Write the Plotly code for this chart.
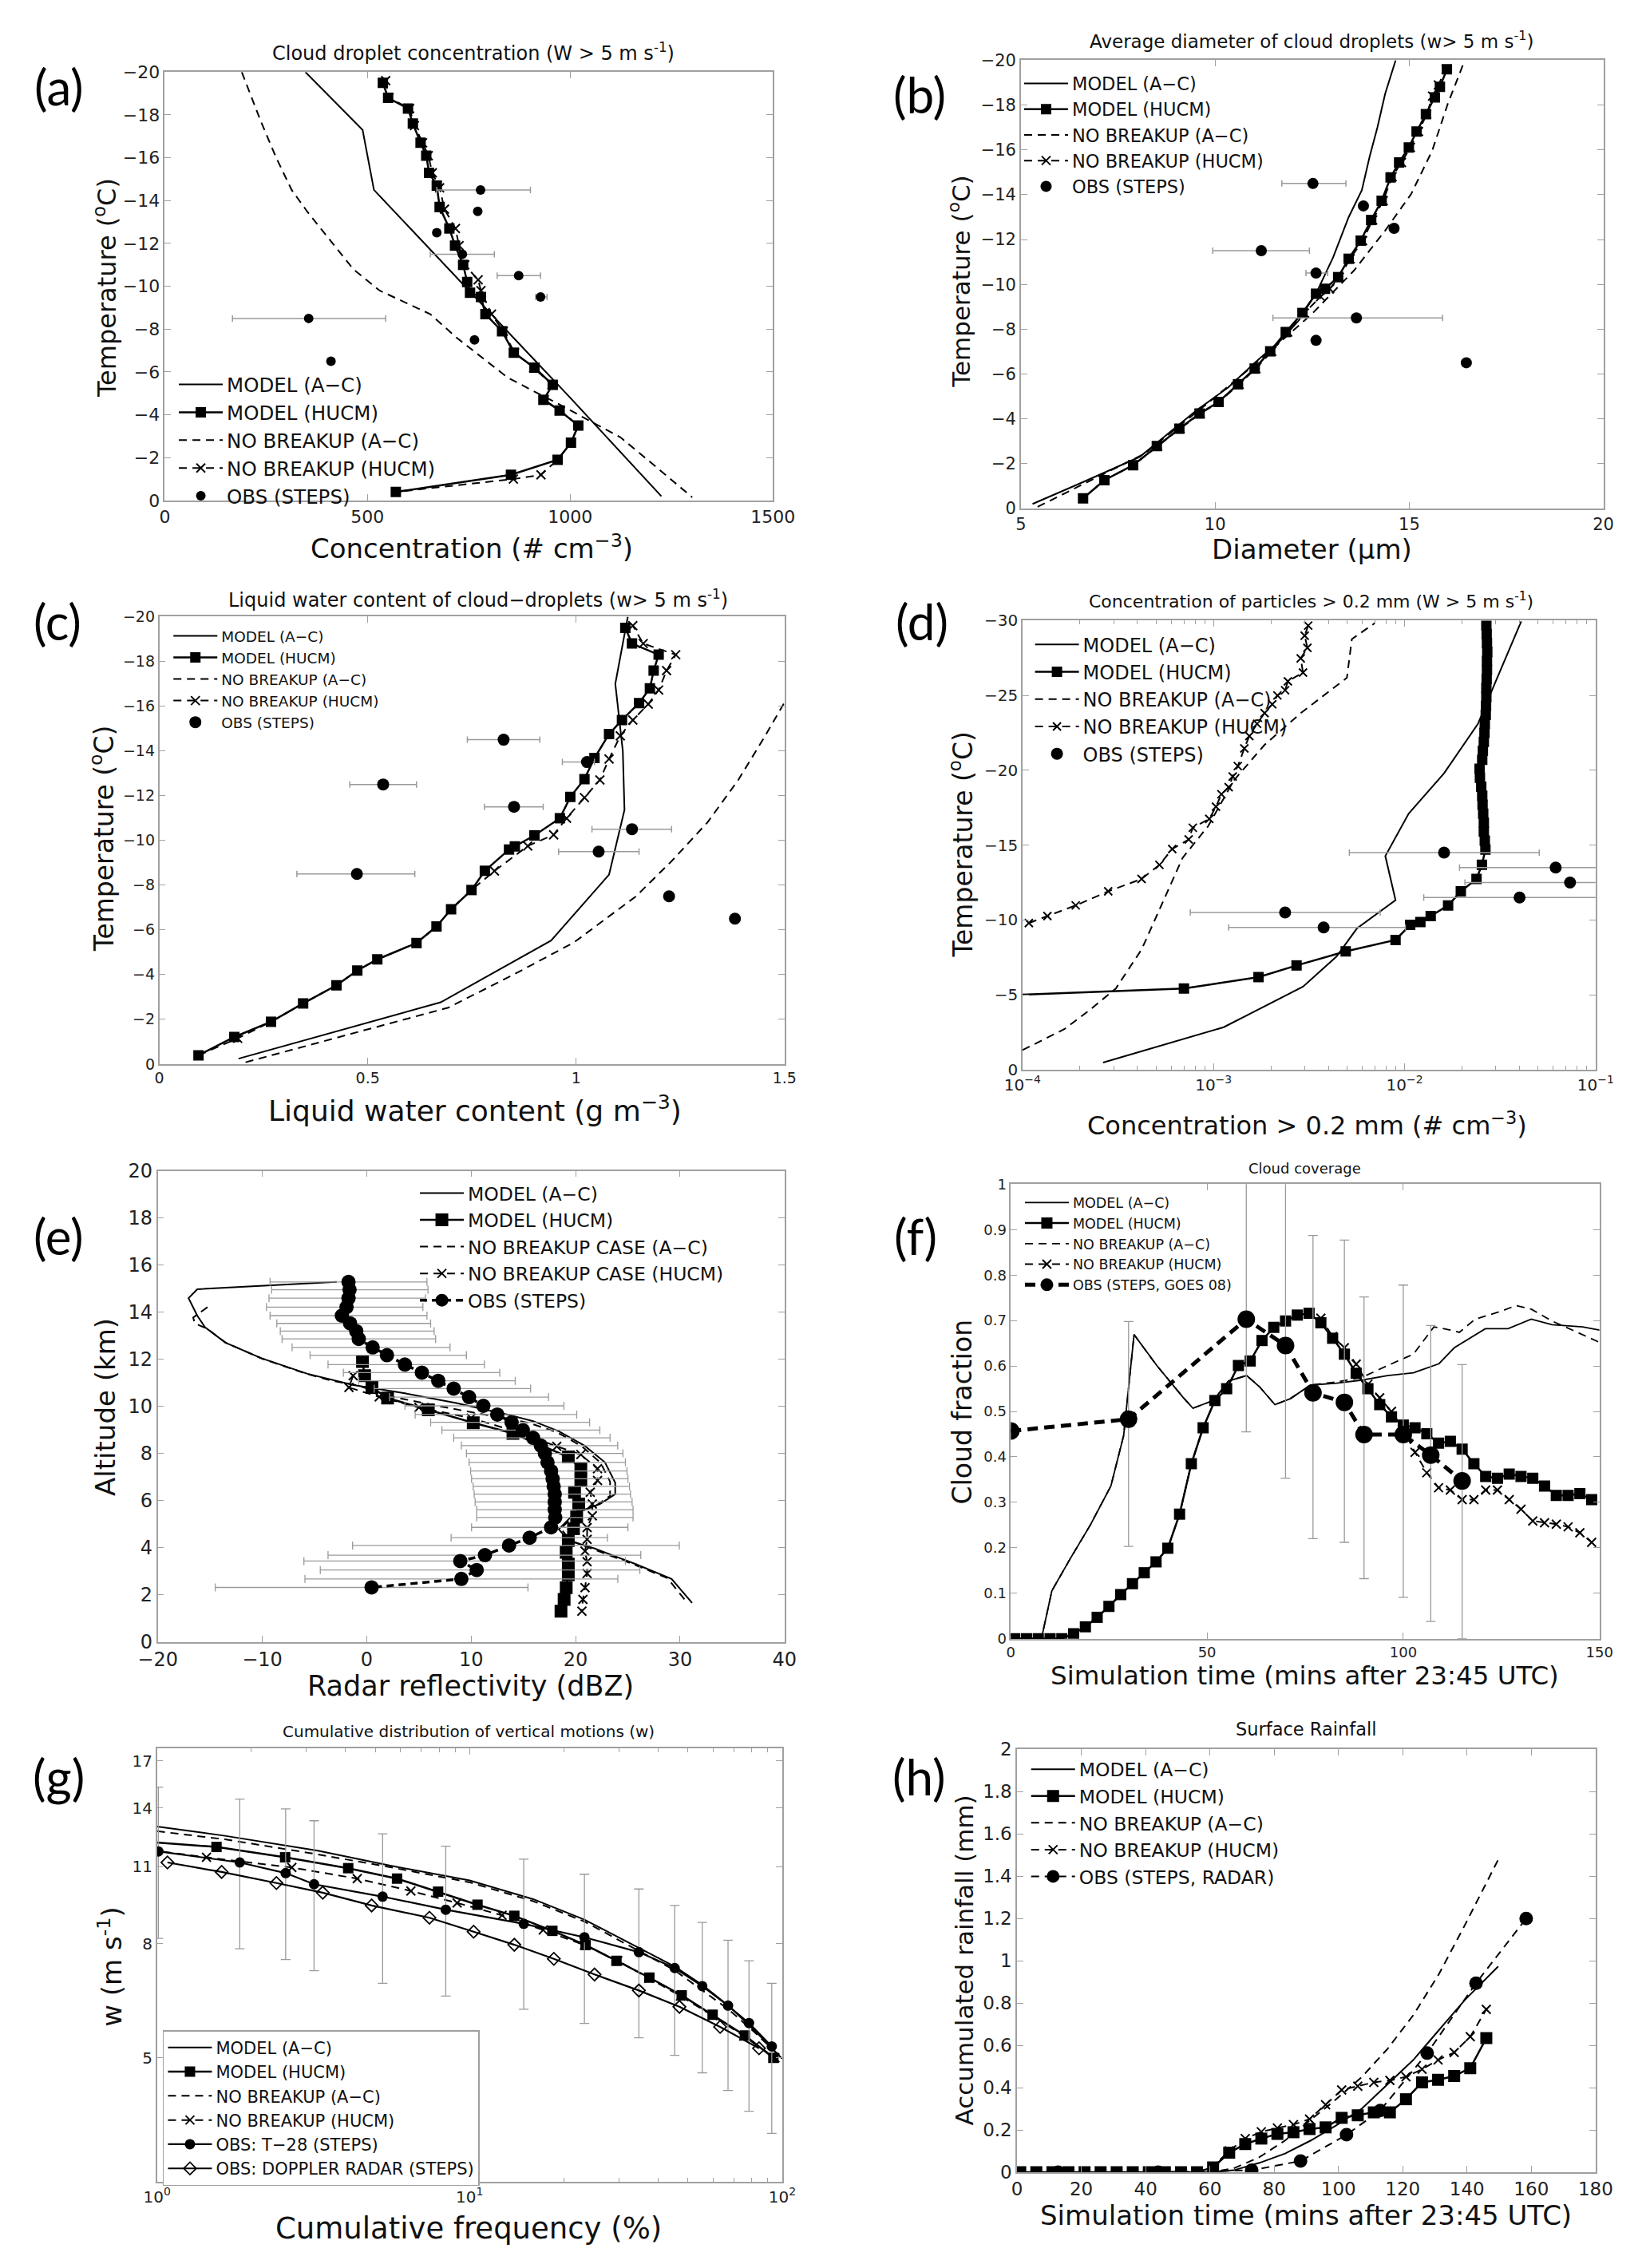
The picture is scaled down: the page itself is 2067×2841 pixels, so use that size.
#!/usr/bin/python3
"""Eight-panel comparison of the A-C and HUCM microphysics runs
(with and without breakup) against the STEPS observations."""
import plotly.graph_objects as go

# ----------------------------------------------------------------- (a)
a_ac_conc = [347, 488, 516, 650, 780, 900, 1000, 1098, 1225]
a_ac_temp = [-20, -17.3, -14.5, -11.8, -9.2, -6.8, -4.8, -2.8, -0.2]
a_hucm_conc = [538, 551, 600, 612, 631, 645, 652, 671, 678, 702, 716, 736, 746, 753,
               780, 791, 832, 861, 912, 957, 934, 974, 1020, 1002, 969, 854, 570]
a_hucm_temp = [-19.5, -18.8, -18.3, -17.6, -16.7, -16.1, -15.3, -14.7, -13.7, -12.7,
               -11.9, -11.0, -10.2, -9.7, -9.5, -8.7, -7.9, -6.9, -6.2, -5.4, -4.7,
               -4.2, -3.5, -2.7, -1.9, -1.2, -0.4]
a_nac_conc = [190, 237, 275, 313, 351, 402, 465, 530, 600, 655, 720, 780, 845, 910,
              972, 1050, 1124, 1210, 1301]
a_nac_temp = [-20, -17.7, -16.0, -14.5, -13.5, -12.3, -10.8, -9.8, -9.2, -8.7, -7.6,
              -6.7, -5.75, -5.1, -4.5, -3.7, -2.95, -1.6, -0.15]
a_nbh_conc = [545, 553, 604, 616, 636, 650, 660, 678, 690, 717, 726, 740, 773, 780,
              806, 835, 863, 910, 955, 936, 975, 1020, 1002, 969, 928, 860, 570]
a_nbh_temp = [-19.6, -18.8, -18.3, -17.5, -16.7, -16.1, -15.3, -14.6, -13.6, -12.7,
              -11.9, -11.0, -10.3, -9.8, -8.7, -7.9, -6.9, -6.2, -5.4, -4.7, -4.2,
              -3.5, -2.7, -1.9, -1.2, -1.0, -0.4]
a_obs_temp = [-14.5, -13.5, -12.5, -11.5, -10.5, -9.5, -8.5, -7.5, -6.5]
a_obs_conc = [779, 772, 671, 734, 873, 927, 355, 764, 410]
a_obs_lo = [671, 772, 671, 655, 820, 915, 167, 764, 410]
a_obs_hi = [902, 772, 671, 813, 927, 943, 545, 764, 410]

# ----------------------------------------------------------------- (b)
b_ac_diam = [5.3, 6.5, 8.06, 9.54, 10.34, 11.02, 11.69, 12.16, 12.63, 13.04, 13.44,
             13.78, 13.98, 14.18, 14.38, 14.65]
b_ac_temp = [-0.2, -1.1, -2.3, -4.4, -5.4, -6.5, -7.5, -8.4, -9.7, -11.2, -13.0,
             -14.2, -15.7, -17.0, -18.5, -20.0]
b_hucm_diam = [6.6, 7.15, 7.89, 8.5, 9.08, 9.6, 10.09, 10.59, 11.02, 11.42, 11.82,
               12.25, 12.6, 12.83, 13.17, 13.44, 13.75, 14.02, 14.29, 14.52, 14.74,
               14.99, 15.19, 15.43, 15.66, 15.79, 15.97]
b_hucm_temp = [-0.45, -1.26, -1.93, -2.78, -3.56, -4.23, -4.75, -5.54, -6.24, -7.01,
               -7.87, -8.72, -9.58, -9.8, -10.32, -11.14, -11.95, -12.87, -13.73,
               -14.77, -15.44, -16.11, -16.82, -17.59, -18.34, -18.81, -19.6]
b_nac_diam = [5.43, 8.19, 9.8, 11.15, 12.5, 13.57, 14.38, 15.05, 15.59, 15.99, 16.43]
b_nac_temp = [-0.07, -2.45, -4.68, -6.61, -8.69, -10.6, -12.4, -14.03, -15.96,
              -18.04, -20.0]
b_nbh_diam = [6.6, 7.15, 7.9, 8.52, 9.1, 9.62, 10.1, 10.62, 11.05, 11.46, 11.87, 12.3,
              12.72, 12.95, 13.2, 13.48, 13.8, 14.06, 14.33, 14.56, 14.8, 15.03, 15.24,
              15.45, 15.6, 15.75, 15.95]
b_nbh_temp = [-0.45, -1.26, -1.93, -2.78, -3.56, -4.23, -4.75, -5.54, -6.24, -7.01,
              -7.87, -8.72, -9.45, -9.8, -10.32, -11.14, -11.95, -12.87, -13.73, -14.8,
              -15.44, -16.11, -16.82, -17.59, -18.4, -18.9, -19.6]
b_obs_temp = [-14.5, -13.5, -12.5, -11.5, -10.5, -8.5, -7.5, -6.5]
b_obs_diam = [12.52, 13.82, 14.61, 11.19, 12.6, 13.64, 12.6, 16.47]
b_obs_lo = [11.72, 13.82, 14.61, 9.94, 12.34, 11.49, 12.6, 16.47]
b_obs_hi = [13.37, 13.82, 14.61, 12.43, 12.9, 15.86, 12.6, 16.47]

# ----------------------------------------------------------------- (c)
c_ac_lwc = [0.19, 0.675, 0.94, 1.079, 1.116, 1.112, 1.094, 1.124]
c_ac_temp = [-0.24, -2.76, -5.52, -8.47, -11.36, -14.0, -17.0, -20.0]
c_hucm_lwc = [0.094, 0.18, 0.268, 0.345, 0.425, 0.475, 0.523, 0.617, 0.665, 0.7, 0.749,
              0.781, 0.839, 0.853, 0.9, 0.961, 0.986, 1.02, 1.044, 1.079, 1.11, 1.151,
              1.177, 1.186, 1.198, 1.134, 1.118]
c_hucm_temp = [-0.39, -1.21, -1.89, -2.71, -3.52, -4.18, -4.68, -5.41, -6.15, -6.92,
               -7.78, -8.64, -9.59, -9.73, -10.22, -10.99, -11.94, -12.74, -13.68,
               -14.75, -15.38, -16.14, -16.8, -17.59, -18.3, -18.8, -19.5]
c_nac_lwc = [0.207, 0.45, 0.693, 0.85, 0.995, 1.143, 1.229, 1.315, 1.389, 1.451, 1.5]
c_nac_temp = [-0.08, -1.3, -2.52, -4.0, -5.44, -7.49, -9.07, -10.8, -12.7, -14.59,
              -16.17]
c_nbh_lwc = [0.094, 0.188, 0.268, 0.345, 0.425, 0.475, 0.523, 0.617, 0.665, 0.7, 0.749,
             0.804, 0.884, 0.946, 0.977, 1.02, 1.057, 1.079, 1.106, 1.136, 1.173, 1.198,
             1.217, 1.239, 1.161, 1.136]
c_nbh_temp = [-0.39, -1.15, -1.89, -2.71, -3.52, -4.18, -4.68, -5.41, -6.15, -6.92,
              -7.78, -8.63, -9.75, -10.25, -10.99, -11.91, -12.7, -13.64, -14.67,
              -15.38, -16.09, -16.72, -17.59, -18.3, -18.8, -19.6]
c_obs_temp = [-14.5, -13.5, -12.5, -11.5, -10.5, -9.5, -8.5, -7.5, -6.5]
c_obs_lwc = [0.826, 1.026, 0.537, 0.851, 1.134, 1.054, 0.474, 1.223, 1.381]
c_obs_lo = [0.739, 0.967, 0.457, 0.78, 1.038, 0.958, 0.33, 1.223, 1.381]
c_obs_hi = [0.913, 1.044, 0.617, 0.921, 1.229, 1.151, 0.613, 1.223, 1.381]

# ----------------------------------------------------------------- (d)
d_ac_conc = [2.64e-4, 1.13e-3, 2.94e-3, 4.4e-3, 5.63e-3, 8.97e-3, 7.93e-3, 1.05e-2,
             1.61e-2, 2.42e-2, 2.99e-2, 4.08e-2]
d_ac_temp = [-0.47, -2.83, -5.54, -7.55, -9.43, -11.32, -14.27, -17.1, -19.8, -23.1,
             -25.9, -29.95]
d_hucm_conc = [9.0e-5, 7.0e-4, 1.72e-3, 2.72e-3, 4.92e-3, 8.97e-3, 1.07e-2, 1.21e-2,
               1.37e-2, 1.69e-2, 1.97e-2, 2.38e-2, 2.54e-2,
               2.65e-2, 2.63e-2, 2.6e-2, 2.6e-2, 2.58e-2, 2.56e-2, 2.55e-2, 2.52e-2,
               2.48e-2, 2.47e-2, 2.55e-2, 2.57e-2, 2.6e-2, 2.62e-2, 2.63e-2, 2.66e-2,
               2.67e-2, 2.68e-2, 2.68e-2, 2.69e-2, 2.7e-2, 2.7e-2, 2.71e-2, 2.7e-2,
               2.69e-2, 2.68e-2]
d_hucm_temp = [-4.98, -5.42, -6.18, -6.96, -7.9, -8.66, -9.67, -9.86, -10.26, -10.97,
               -11.91, -12.74, -13.68,
               -14.7, -15.3, -15.9, -16.5, -17.1, -17.7, -18.3, -18.9, -19.5, -20.1,
               -20.7, -21.3, -21.9, -22.5, -23.1, -23.7, -24.3, -24.9, -25.5, -26.1,
               -26.7, -27.3, -27.9, -28.5, -29.1, -29.7]
d_nac_conc = [1.0e-4, 1.66e-4, 2.26e-4, 3.08e-4, 4.2e-4, 5.38e-4, 6.89e-4, 9.37e-4,
              1.28e-3, 1.85e-3, 2.86e-3, 4.99e-3, 5.3e-3, 7.0e-3]
d_nac_temp = [-1.3, -2.71, -4.0, -5.42, -8.02, -11.08, -14.15, -16.27, -19.34, -21.7,
              -23.82, -26.18, -28.77, -29.84]
d_nbh_conc = [1.08e-4, 1.35e-4, 1.9e-4, 2.81e-4, 4.2e-4, 5.21e-4, 6.08e-4, 7.41e-4,
              7.79e-4, 9.5e-4, 1.03e-3, 1.1e-3, 1.2e-3, 1.26e-3, 1.34e-3, 1.45e-3,
              1.54e-3, 1.69e-3, 1.85e-3, 2.03e-3, 2.16e-3, 2.37e-3, 2.45e-3, 2.94e-3,
              2.86e-3, 3.1e-3, 3.0e-3, 3.13e-3]
d_nbh_temp = [-9.79, -10.26, -10.97, -11.91, -12.74, -13.68, -14.74, -15.38, -16.16,
              -16.75, -17.57, -18.4, -18.87, -19.58, -20.28, -21.46, -22.29, -23.11,
              -23.82, -24.41, -25.0, -25.35, -25.94, -26.53, -27.48, -28.18, -29.0,
              -29.67]
d_obs_temp = [-14.5, -13.5, -12.5, -11.5, -10.5, -9.5]
d_obs_conc = [1.61e-2, 6.18e-2, 7.35e-2, 4.0e-2, 2.37e-3, 3.77e-3]
d_obs_lo = [5.14e-3, 1.94e-2, 2.07e-2, 1.26e-2, 7.56e-4, 1.2e-3]
d_obs_hi = [5.07e-2, 0.2, 0.2, 0.2, 7.45e-3, 1.01e-2]
d_tick_vals = [1e-4, 1e-3, 1e-2, 1e-1]
d_tick_text = ["10<sup>−4</sup>", "10<sup>−3</sup>", "10<sup>−2</sup>", "10<sup>−1</sup>"]

# ----------------------------------------------------------------- (e)
e_ac_dbz = [-2.87, -16.22, -17.05, -16.22, -15.48, -13.52, -10.08, -5.67, -1.25, 3.66,
            8.57, 13.48, 15.93, 18.39, 20.85, 22.81, 23.79, 23.79, 22.32, 19.86, 18.39,
            19.37, 21.83, 25.75, 29.19, 31.15]
e_ac_alt = [15.28, 14.97, 14.59, 13.85, 13.36, 12.7, 12.04, 11.38, 10.9, 10.55, 10.14,
            9.65, 9.37, 8.94, 8.33, 7.62, 6.76, 6.27, 5.85, 5.44, 4.78, 4.29, 3.96, 3.3,
            2.67, 1.65]
e_hucm_dbz = [-0.4, -0.2, 0.5, 2.0, 5.9, 10.2, 14.0, 19.3, 20.5, 20.5, 19.9, 20.3, 20.1,
              19.8, 19.3, 19.1, 19.3, 19.3, 19.1, 18.9, 18.6]
e_hucm_alt = [11.9, 11.3, 10.8, 10.35, 9.85, 9.3, 8.85, 7.85, 7.35, 6.85, 6.35, 5.85,
              5.3, 4.8, 4.3, 3.8, 3.3, 2.85, 2.3, 1.8, 1.3]
e_nac_dbz = [-15.24, -16.61, -16.46, -15.3, -13.5, -10.0, -5.9, -3.5, -1.0, 2.5, 7.0,
             12.0, 15.5, 18.2, 20.6, 22.4, 23.3, 23.3, 22.0, 20.0, 18.6, 19.5, 21.6,
             25.5, 28.8, 30.7]
e_nac_alt = [14.21, 13.77, 13.52, 13.3, 12.7, 12.02, 11.4, 11.1, 10.9, 10.4, 10.0, 9.6,
             9.3, 8.9, 8.3, 7.6, 6.8, 6.2, 5.8, 5.45, 4.8, 4.3, 3.95, 3.3, 2.7, 1.65]
e_nbh_dbz = [-1.3, -1.7, 1.2, 5.0, 10.0, 14.5, 18.2, 20.5, 22.1, 22.1, 21.4, 21.6, 21.6,
             21.1, 21.1, 20.9, 21.1, 21.1, 20.9, 20.7, 20.6]
e_nbh_alt = [11.3, 10.8, 10.4, 9.95, 9.5, 8.9, 8.3, 7.95, 7.35, 6.85, 6.35, 5.85, 5.35,
             4.85, 4.35, 3.85, 3.4, 2.9, 2.3, 1.8, 1.3]
e_obs_alt = [15.28, 14.95, 14.59, 14.21, 13.85, 13.52, 13.19, 12.86, 12.5, 12.17, 11.77,
             11.43, 11.08, 10.75, 10.39, 10.02, 9.65, 9.32, 8.99, 8.66, 8.33, 8.0, 7.62,
             7.25, 6.92, 6.6, 6.27, 5.94, 5.61, 5.28, 4.86, 4.42, 4.09, 3.68, 3.43, 3.05,
             2.67, 2.31]
e_obs_dbz = [-1.74, -1.64, -1.74, -1.93, -2.38, -1.59, -1.0, -0.76, 0.57, 1.94, 3.66,
             5.28, 6.85, 8.33, 9.8, 11.17, 12.5, 13.87, 14.95, 15.93, 16.67, 17.06,
             17.31, 17.65, 17.8, 17.9, 18.0, 18.0, 18.0, 18.05, 17.65, 15.6, 13.63,
             11.32, 8.96, 10.53, 9.06, 0.47]
e_obs_lo = [-9.25, -9.1, -9.35, -9.6, -9.25, -8.6, -8.27, -8.1, -7.14, -5.42, -3.7,
            -2.23, -0.76, 0.72, 2.19, 3.66, 4.64, 6.12, 7.2, 8.33, 9.06, 9.55, 9.8, 9.95,
            10.04, 10.19, 10.29, 10.38, 10.53, 10.53, 10.04, 8.08, -1.35, -3.7, -6.01,
            -4.44, -5.91, -14.5]
e_obs_hi = [5.77, 5.87, 5.63, 5.38, 5.77, 6.12, 6.46, 6.6, 7.98, 9.55, 11.27, 12.74,
            14.22, 15.69, 17.41, 18.88, 20.11, 21.34, 22.32, 23.3, 24.03, 24.53, 24.77,
            24.92, 25.01, 25.16, 25.26, 25.41, 25.5, 25.5, 25.01, 23.05, 29.93, 26.24,
            24.77, 26.15, 24.04, 15.44]

# ----------------------------------------------------------------- (f)
f_ac_time = [0, 7.8, 10.45, 15.0, 20.25, 25.5, 28.75, 31.4, 37.2, 43.8, 46.4, 51.6,
             55.5, 60.1, 63.4, 67.3, 71.2, 76.4, 83.0, 89.5, 96.0, 102.6, 109.1, 113.0,
             120.9, 126.7, 132.6, 137.9, 145.7, 150]
f_ac_frac = [0, 0, 0.105, 0.174, 0.25, 0.336, 0.447, 0.669, 0.601, 0.532, 0.507, 0.524,
             0.567, 0.579, 0.554, 0.515, 0.528, 0.558, 0.562, 0.569, 0.579, 0.585,
             0.605, 0.64, 0.682, 0.682, 0.703, 0.691, 0.686, 0.679]
f_hucm_time = [1, 4, 7, 10, 13, 16, 19, 22, 25, 28, 31, 34, 37, 40, 43, 46, 49, 52, 55,
               58, 61, 64, 67, 70, 73, 76, 79, 82, 85, 88, 91, 94, 97, 100, 103, 106,
               109, 112, 115, 118, 121, 124, 127, 130, 133, 136, 139, 142, 145, 148]
f_hucm_frac = [0, 0, 0, 0, 0, 0.011, 0.026, 0.047, 0.071, 0.097, 0.121, 0.145, 0.169,
               0.199, 0.274, 0.385, 0.464, 0.524, 0.55, 0.601, 0.611, 0.656, 0.685,
               0.699, 0.712, 0.716, 0.695, 0.661, 0.626, 0.584, 0.55, 0.515, 0.488,
               0.47, 0.464, 0.451, 0.43, 0.434, 0.417, 0.385, 0.357, 0.353, 0.362,
               0.357, 0.353, 0.336, 0.315, 0.315, 0.319, 0.306]
f_nac_time = [0, 7.8, 10.45, 15.0, 20.25, 25.5, 28.75, 31.4, 37.2, 43.8, 46.4, 51.6,
              55.5, 60.1, 63.4, 67.3, 71.2, 76.4, 83.0, 89.5, 96.0, 102.6, 107.8, 111.5,
              114.3, 118.3, 124.8, 128.7, 132.6, 137.9, 144.4, 150]
f_nac_frac = [0, 0, 0.105, 0.174, 0.25, 0.336, 0.447, 0.669, 0.601, 0.532, 0.507,
              0.524, 0.567, 0.579, 0.554, 0.515, 0.528, 0.558, 0.565, 0.575, 0.601,
              0.626, 0.686, 0.68, 0.674, 0.703, 0.72, 0.733, 0.725, 0.699, 0.674, 0.652]
f_nbh_time = [1, 4, 7, 10, 13, 16, 19, 22, 25, 28, 31, 34, 37, 40, 43, 46, 49, 52, 55,
              58, 61, 64, 67, 70, 73, 76, 79, 82, 85, 88, 91, 94, 97, 100, 103, 106,
              109, 112, 115, 118, 121, 124, 127, 130, 133, 136, 139, 142, 145, 148]
f_nbh_frac = [0, 0, 0, 0, 0, 0.011, 0.026, 0.047, 0.071, 0.097, 0.121, 0.145, 0.169,
              0.199, 0.274, 0.385, 0.464, 0.524, 0.55, 0.601, 0.611, 0.656, 0.685,
              0.699, 0.712, 0.716, 0.705, 0.665, 0.64, 0.604, 0.56, 0.53, 0.5, 0.46,
              0.41, 0.365, 0.332, 0.327, 0.306, 0.306, 0.327, 0.327, 0.306, 0.285,
              0.259, 0.255, 0.252, 0.246, 0.233, 0.212]
f_obs_time = [0, 30, 60, 70, 77, 85, 90, 100, 107, 115]
f_obs_frac = [0.457, 0.483, 0.703, 0.645, 0.541, 0.52, 0.449, 0.449, 0.404, 0.347]
f_obs_lo = [0.457, 0.203, 0.455, 0.353, 0.22, 0.212, 0.132, 0.091, 0.038, 0.0]
f_obs_hi = [0.457, 0.698, 1.2, 1.2, 0.887, 0.877, 0.752, 0.778, 0.689, 0.603]

# ----------------------------------------------------------------- (g)
g_ac_freq = [1, 1.65, 3.27, 5.54, 10, 15.97, 23.3, 34.0, 45.2, 55.6, 67.2, 81.2, 100]
g_ac_w = [12.98, 12.49, 11.75, 11.05, 10.39, 9.62, 8.84, 7.93, 7.29, 6.75, 6.2, 5.61,
          4.98]
g_hucm_freq = [0.95, 1.55, 2.57, 4.09, 5.86, 7.93, 10.6, 13.9, 18.4, 23.5, 29.5, 37.6,
               47.7, 59.9, 76, 93.7]
g_hucm_w = [12.17, 11.93, 11.43, 10.93, 10.47, 9.92, 9.4, 8.98, 8.44, 7.96, 7.46, 6.96,
            6.47, 5.97, 5.48, 5.0]
g_nac_freq = [1, 1.65, 3.27, 5.54, 10, 15.97, 23.3, 34.0, 45.2, 55.6, 67.2, 81.2, 98]
g_nac_w = [12.73, 12.31, 11.57, 10.98, 10.31, 9.54, 8.77, 7.82, 7.18, 6.6, 6.11, 5.57,
           5.04]
g_nbh_freq = [0.95, 1.44, 2.7, 4.37, 6.49, 9.12, 12.7, 17.2, 23.3, 29.8, 37.4, 47.3,
              59.9, 75.3, 94.8]
g_nbh_w = [11.78, 11.43, 10.96, 10.47, 9.95, 9.47, 9.0, 8.47, 7.96, 7.46, 6.94, 6.45,
           5.95, 5.47, 5.0]
g_t28_freq = [1.01, 1.84, 2.58, 3.18, 5.27, 8.39, 14.9, 23.3, 34.8, 45.3, 55.5, 67.1,
              78.3, 92.6]
g_t28_w = [11.71, 11.19, 10.71, 10.23, 9.72, 9.21, 8.69, 8.22, 7.73, 7.24, 6.72, 6.2,
           5.77, 5.24]
g_t28_lo = [8.18, 7.84, 7.5, 7.16, 6.8, 6.45, 6.11, 5.76, 5.43, 5.05, 4.7, 4.37, 4.01,
            3.66]
g_t28_hi = [15.27, 14.53, 13.96, 13.29, 12.59, 11.97, 11.34, 10.66, 10.03, 9.37, 8.74,
            8.12, 7.46, 6.8]
g_dop_freq = [1.08, 1.61, 2.41, 3.39, 4.86, 7.44, 10.3, 13.9, 18.6, 25.1, 34.8, 46.9,
              63.3, 84.3]
g_dop_w = [11.19, 10.76, 10.28, 9.88, 9.37, 8.91, 8.41, 7.97, 7.52, 7.05, 6.6, 6.17,
           5.68, 5.2]
g_x_tick_vals = [1, 10, 100]
g_x_tick_text = ["10<sup>0</sup>", "10<sup>1</sup>", "10<sup>2</sup>"]
g_y_tick_vals = [5, 8, 11, 14, 17]

# ----------------------------------------------------------------- (h)
h_ac_time = [0, 60, 67.4, 75.4, 83.4, 91.4, 99.3, 107.3, 115.3, 123.3, 131.3, 139.3,
             149.7]
h_ac_rain = [0, 0, 0.009, 0.044, 0.088, 0.15, 0.221, 0.301, 0.416, 0.531, 0.673, 0.814,
             0.973]
h_hucm_time = [1, 6, 11, 16, 21, 26, 31, 36, 41, 46, 51, 56, 61, 66, 71, 76, 81, 86, 91,
               96, 101, 106, 111, 116, 121, 126, 131, 136, 141, 146]
h_hucm_rain = [0, 0, 0, 0, 0, 0, 0, 0, 0, 0, 0, 0, 0.023, 0.092, 0.133, 0.159, 0.181,
               0.189, 0.204, 0.212, 0.257, 0.269, 0.283, 0.283, 0.345, 0.425, 0.437,
               0.455, 0.492, 0.634]
h_nac_time = [0, 60, 67.4, 75.4, 83.4, 91.4, 99.3, 107.3, 115.3, 123.3, 131.3, 139.3,
              149.7]
h_nac_rain = [0, 0, 0.018, 0.071, 0.15, 0.248, 0.345, 0.451, 0.584, 0.743, 0.938, 1.168,
              1.478]
h_nbh_time = [1, 6, 11, 16, 21, 26, 31, 36, 41, 46, 51, 56, 61, 66, 71, 76, 81, 86, 91,
              96, 101, 106, 111, 116, 121, 126, 131, 136, 141, 146]
h_nbh_rain = [0, 0, 0, 0, 0, 0, 0, 0, 0, 0, 0, 0, 0.027, 0.101, 0.159, 0.191, 0.209,
              0.225, 0.251, 0.319, 0.389, 0.407, 0.425, 0.434, 0.451, 0.487, 0.531,
              0.566, 0.641, 0.77]
h_obs_time = [12.8, 43.9, 73, 88.2, 102.5, 113, 127.6, 142.8, 158.4]
h_obs_rain = [0, 0, 0.009, 0.053, 0.177, 0.292, 0.563, 0.894, 1.2]

FONT = "DejaVu Sans, Liberation Sans, Arial, sans-serif"
LABEL_FONT = "Lato, Open Sans, sans-serif"
FIG_W, FIG_H, OFF = 2051, 2825, 8  # page keeps the default 8px body margin
FRAME = "#a0a0a0"
ERRC = "#9a9a9a"
DASH = "10px,7px"


def fx(x):
    return (x - OFF) / FIG_W


def fy(y):
    return 1 - (y - OFF) / FIG_H


def ids(n):
    s = "" if n == 1 else str(n)
    return "x" + s, "y" + s, "legend" + s


def bars(val, lo, hi, cap=4, thick=1.5):
    return dict(type="data", symmetric=False,
                array=[h - v for v, h in zip(val, hi)],
                arrayminus=[v - l for v, l in zip(val, lo)],
                color=ERRC, thickness=thick, width=cap)


def curve(n, x, y, name, line=None, marker=None, err_x=None, err_y=None):
    xa, ya, lg = ids(n)
    mode = "+".join(m for m, v in (("lines", line), ("markers", marker)) if v)
    tr = go.Scatter(x=x, y=y, name=name, mode=mode, xaxis=xa, yaxis=ya, legend=lg)
    if line:
        tr.line = line
    if marker:
        tr.marker = marker
    if err_x:
        tr.error_x = err_x
    if err_y:
        tr.error_y = err_y
    return tr


def solid(w=2):
    return dict(color="black", width=w)


def dashed(w=2, dash=DASH):
    return dict(color="black", width=w, dash=dash)


def sq(s):
    return dict(symbol="square", size=s, color="black")


def xm(s):
    return dict(symbol="x-thin", size=s, color="black", line=dict(color="black", width=2))


def dot(s):
    return dict(symbol="circle", size=s, color="black")


def axis(lo, hi, anchor, rng, size, horizontal, **kw):
    dom = [fx(lo), fx(hi)] if horizontal else [fy(hi), fy(lo)]
    ax = dict(domain=dom, anchor=anchor, range=rng, showline=True, mirror="ticks",
              linecolor=FRAME, linewidth=1.5, ticks="inside", ticklen=8,
              tickcolor=FRAME, tickwidth=1.2, showgrid=False, zeroline=False,
              tickfont=dict(family=FONT, size=size, color="#222"))
    ax.update(kw)
    return ax


def legend_at(x0, y1, fs, border=False):
    # x0: left end of the legend symbols, y1: centre of the first entry (page px)
    item_h = 1.3 * fs + 3
    bw = 1.5 if border else 0
    lg = dict(x=fx(x0 - 5 - bw), y=fy(y1 - item_h / 2 - 5 - bw), xanchor="left",
              yanchor="top", font=dict(family=FONT, size=fs, color="#111"),
              itemwidth=55, bgcolor="rgba(0,0,0,0)", borderwidth=0, tracegroupgap=0)
    if border:
        lg.update(bgcolor="white", bordercolor=FRAME, borderwidth=bw)
    return lg


def text(x, y, s, size, angle=0, family=FONT, color="#111"):
    return dict(x=fx(x), y=fy(y), xref="paper", yref="paper", text=s, showarrow=False,
                xanchor="center", yanchor="middle", textangle=angle,
                font=dict(family=family, size=size, color=color))


def build():
    t = []
    t += [curve(1, a_ac_conc, a_ac_temp, "MODEL (A−C)", line=solid()),
          curve(1, a_hucm_conc, a_hucm_temp, "MODEL (HUCM)", line=solid(2.5), marker=sq(13)),
          curve(1, a_nac_conc, a_nac_temp, "NO BREAKUP (A−C)", line=dashed()),
          curve(1, a_nbh_conc, a_nbh_temp, "NO BREAKUP (HUCM)", line=dashed(), marker=xm(11)),
          curve(1, a_obs_conc, a_obs_temp, "OBS (STEPS)", marker=dot(12),
                err_x=bars(a_obs_conc, a_obs_lo, a_obs_hi))]
    t += [curve(2, b_ac_diam, b_ac_temp, "MODEL (A−C)", line=solid()),
          curve(2, b_hucm_diam, b_hucm_temp, "MODEL (HUCM)", line=solid(2.5), marker=sq(13)),
          curve(2, b_nac_diam, b_nac_temp, "NO BREAKUP (A−C)", line=dashed()),
          curve(2, b_nbh_diam, b_nbh_temp, "NO BREAKUP (HUCM)", line=dashed(), marker=xm(11)),
          curve(2, b_obs_diam, b_obs_temp, "OBS (STEPS)", marker=dot(14),
                err_x=bars(b_obs_diam, b_obs_lo, b_obs_hi))]
    t += [curve(3, c_ac_lwc, c_ac_temp, "MODEL (A−C)", line=solid()),
          curve(3, c_hucm_lwc, c_hucm_temp, "MODEL (HUCM)", line=solid(2.5), marker=sq(13)),
          curve(3, c_nac_lwc, c_nac_temp, "NO BREAKUP (A−C)", line=dashed()),
          curve(3, c_nbh_lwc, c_nbh_temp, "NO BREAKUP (HUCM)", line=dashed(), marker=xm(11)),
          curve(3, c_obs_lwc, c_obs_temp, "OBS (STEPS)", marker=dot(15),
                err_x=bars(c_obs_lwc, c_obs_lo, c_obs_hi))]
    t += [curve(4, d_ac_conc, d_ac_temp, "MODEL (A−C)", line=solid()),
          curve(4, d_hucm_conc, d_hucm_temp, "MODEL (HUCM)", line=solid(2.5), marker=sq(13)),
          curve(4, d_nac_conc, d_nac_temp, "NO BREAKUP (A−C)", line=dashed()),
          curve(4, d_nbh_conc, d_nbh_temp, "NO BREAKUP (HUCM)", line=dashed(), marker=xm(10)),
          curve(4, d_obs_conc, d_obs_temp, "OBS (STEPS)", marker=dot(15),
                err_x=bars(d_obs_conc, d_obs_lo, d_obs_hi))]
    t += [curve(5, e_ac_dbz, e_ac_alt, "MODEL (A−C)", line=solid()),
          curve(5, e_hucm_dbz, e_hucm_alt, "MODEL (HUCM)", line=solid(2.5), marker=sq(16)),
          curve(5, e_nac_dbz, e_nac_alt, "NO BREAKUP CASE (A−C)", line=dashed()),
          curve(5, e_nbh_dbz, e_nbh_alt, "NO BREAKUP CASE (HUCM)", line=dashed(), marker=xm(11)),
          curve(5, e_obs_dbz, e_obs_alt, "OBS (STEPS)", line=dashed(3.5, "9px,6px"),
                marker=dot(18), err_x=bars(e_obs_dbz, e_obs_lo, e_obs_hi, cap=5, thick=1.3))]
    t += [curve(6, f_ac_time, f_ac_frac, "MODEL (A−C)", line=solid(1.8)),
          curve(6, f_hucm_time, f_hucm_frac, "MODEL (HUCM)", line=solid(2.5), marker=sq(14)),
          curve(6, f_nac_time, f_nac_frac, "NO BREAKUP (A−C)", line=dashed(1.8)),
          curve(6, f_nbh_time, f_nbh_frac, "NO BREAKUP (HUCM)", line=dashed(), marker=xm(11)),
          curve(6, f_obs_time, f_obs_frac, "OBS (STEPS, GOES 08)",
                line=dashed(5, "13px,8px"), marker=dot(22),
                err_y=bars(f_obs_frac, f_obs_lo, f_obs_hi, cap=6, thick=1.3))]
    t += [curve(7, g_ac_freq, g_ac_w, "MODEL (A−C)", line=solid()),
          curve(7, g_hucm_freq, g_hucm_w, "MODEL (HUCM)", line=solid(2.5), marker=sq(13)),
          curve(7, g_nac_freq, g_nac_w, "NO BREAKUP (A−C)", line=dashed()),
          curve(7, g_nbh_freq, g_nbh_w, "NO BREAKUP (HUCM)", line=dashed(), marker=xm(11)),
          curve(7, g_t28_freq, g_t28_w, "OBS: T−28 (STEPS)", line=solid(2.2), marker=dot(13),
                err_y=bars(g_t28_w, g_t28_lo, g_t28_hi, cap=6, thick=1.3)),
          curve(7, g_dop_freq, g_dop_w, "OBS: DOPPLER RADAR (STEPS)", line=solid(2.2),
                marker=dict(symbol="diamond-open", size=12, color="black",
                            line=dict(color="black", width=1.8)))]
    t += [curve(8, h_ac_time, h_ac_rain, "MODEL (A−C)", line=solid()),
          curve(8, h_hucm_time, h_hucm_rain, "MODEL (HUCM)", line=solid(2.5), marker=sq(15)),
          curve(8, h_nac_time, h_nac_rain, "NO BREAKUP (A−C)", line=dashed()),
          curve(8, h_nbh_time, h_nbh_rain, "NO BREAKUP (HUCM)", line=dashed(), marker=xm(11)),
          curve(8, h_obs_time, h_obs_rain, "OBS (STEPS, RADAR)", line=dashed(2),
                marker=dot(17))]
    return t


# plot boxes in page pixels: left, right, top, bottom
BOXES = {1: (186, 968, 77, 619), 2: (1287, 2036, 62, 629),
         3: (179, 983, 766, 1332), 4: (1289, 2026, 771, 1339),
         5: (177, 983, 1467, 2063), 6: (1274, 2031, 1484, 2059),
         7: (176, 980, 2198, 2746), 8: (1282, 2026, 2199, 2734)}


def main():
    fig = go.Figure(data=build())
    temp_ticks = [0, -2, -4, -6, -8, -10, -12, -14, -16, -18, -20]
    log_minor = dict(ticks="inside", ticklen=5, tickcolor=FRAME, dtick="D1")
    specs = {
        1: (dict(range=[0, 1500], tickvals=[0, 500, 1000, 1500]),
            dict(range=[0, -20], tickvals=temp_ticks), 22),
        2: (dict(range=[5, 20], tickvals=[5, 10, 15, 20]),
            dict(range=[0, -20], tickvals=temp_ticks), 21),
        3: (dict(range=[0, 1.5], tickvals=[0, 0.5, 1, 1.5]),
            dict(range=[0, -20], tickvals=temp_ticks), 19),
        4: (dict(type="log", range=[-4, -1], tickvals=d_tick_vals, ticktext=d_tick_text,
                 minor=log_minor),
            dict(range=[0, -30], tickvals=[0, -5, -10, -15, -20, -25, -30]), 20),
        5: (dict(range=[-20, 40], dtick=10), dict(range=[0, 20], dtick=2), 24),
        6: (dict(range=[0, 150], dtick=50), dict(range=[0, 1], dtick=0.1), 18),
        7: (dict(type="log", range=[0, 2], tickvals=g_x_tick_vals,
                 ticktext=g_x_tick_text, minor=log_minor),
            dict(type="log", range=[0.4771, 1.2529], tickvals=g_y_tick_vals), 20),
        8: (dict(range=[0, 180], dtick=20), dict(range=[0, 2], dtick=0.2), 23),
    }
    layout = {}
    for n, (xs, ys, fs) in specs.items():
        left, right, top, bottom = BOXES[n]
        xa, ya, _ = ids(n)
        xkw, ykw = dict(xs), dict(ys)
        suffix = "" if n == 1 else str(n)
        layout["xaxis" + suffix] = axis(left, right, ya, xkw.pop("range"), fs, True, **xkw)
        layout["yaxis" + suffix] = axis(top, bottom, xa, ykw.pop("range"), fs, False, **ykw)

    legends = {"legend": legend_at(204, 472, 24.5), "legend2": legend_at(1291, 91, 22.5),
               "legend3": legend_at(197, 790, 18.5), "legend4": legend_at(1305, 801, 24),
               "legend5": legend_at(514, 1495, 23.5), "legend6": legend_at(1292, 1507, 17.5),
               "legend7": legend_at(190, 2576, 21, border=True),
               "legend8": legend_at(1300, 2224, 23.5)}

    sup = "<sup>-1</sup>"
    temp_title = "Temperature (<sup>o</sup>C)"
    notes = [
        # panel titles
        text(583, 51, "Cloud droplet concentration (W > 5 m s" + sup + ")", 24),
        text(1661, 36, "Average diameter of cloud droplets (w> 5 m s" + sup + ")", 23),
        text(589, 743, "Liquid water content of cloud−droplets (w> 5 m s" + sup + ")", 24),
        text(1660, 745, "Concentration of particles > 0.2 mm (W > 5 m s" + sup + ")", 22),
        text(1652, 1464, "Cloud coverage", 18),
        text(577, 2176, "Cumulative distribution of vertical motions (w)", 20),
        text(1654, 2173, "Surface Rainfall", 22.5),
        # x-axis titles
        text(581, 678, "Concentration (# cm<sup>−3</sup>)", 34),
        text(1661, 681, "Diameter (μm)", 34),
        text(585, 1389, "Liquid water content (g m<sup>−3</sup>)", 36),
        text(1655, 1408, "Concentration > 0.2 mm (# cm<sup>−3</sup>)", 32),
        text(579, 2119, "Radar reflectivity (dBZ)", 35),
        text(1652, 2106, "Simulation time (mins after 23:45 UTC)", 32.5),
        text(577, 2805, "Cumulative frequency (%)", 37),
        text(1654, 2789, "Simulation time (mins after 23:45 UTC)", 34),
        # y-axis titles
        text(109, 350, temp_title, 32, -90),
        text(1208, 342, temp_title, 31, -90),
        text(106, 1047, temp_title, 33, -90),
        text(1211, 1054, temp_title, 33, -90),
        text(109, 1766, "Altitude (km)", 34, -90),
        text(1212, 1772, "Cloud fraction", 33, -90),
        text(115, 2474, "w (m s" + sup + ")", 34, -90),
        text(1214, 2466, "Accumulated rainfall (mm)", 31, -90),
    ]
    for lab, (x, y) in zip("abcdefgh", [(50, 95), (1157, 105), (48, 772), (1160, 772),
                                        (50, 1549), (1152, 1549), (50, 2233),
                                        (1156, 2233)]):
        notes.append(text(x, y, "(" + lab + ")", 62, family=LABEL_FONT, color="black"))

    fig.update_layout(width=FIG_W, height=FIG_H, margin=dict(l=0, r=0, t=0, b=0),
                      paper_bgcolor="white", plot_bgcolor="white", showlegend=True,
                      annotations=notes, **layout, **legends)
    fig.write_html("out.html")


if __name__ == "__main__":
    main()
